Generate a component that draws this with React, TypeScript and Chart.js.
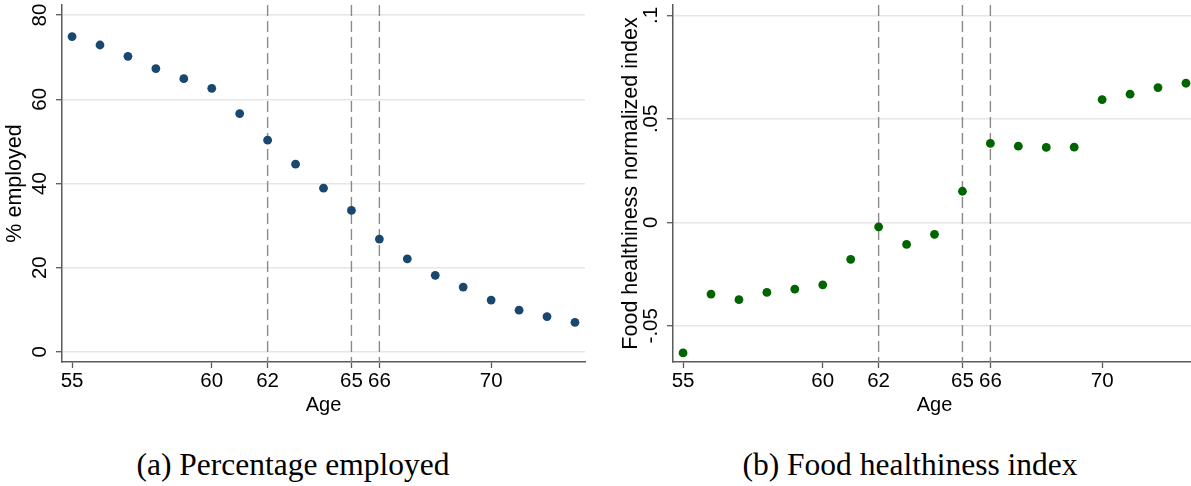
import { useEffect, useRef } from 'react';
import { Chart, registerables } from 'chart.js';

Chart.register(...registerables);

// Age on the horizontal axis of both panels
const ages = [55, 56, 57, 58, 59, 60, 61, 62, 63, 64, 65, 66, 67, 68, 69, 70, 71, 72, 73];

// (a) share of respondents employed, by age
const employedPct = [74.9, 72.9, 70.2, 67.3, 64.9, 62.6, 56.6, 50.3, 44.6, 38.9, 33.6, 26.8, 22.1, 18.2, 15.4, 12.3, 9.9, 8.4, 7.0];

// (b) normalized food healthiness index, by age
const foodIndex = [-0.0631, -0.0347, -0.0374, -0.0339, -0.0323, -0.0302, -0.0179, -0.0022, -0.0107, -0.0058, 0.015, 0.0381, 0.0368, 0.0362, 0.0363, 0.0593, 0.0619, 0.0651, 0.0672];

// Reference ages marked with dashed vertical lines
const retirementAges = [62, 65, 66];

const ageTicks = [55, 60, 62, 65, 66, 70];
const ageTickLabels = ['55', '60', '62', '65', '66', '70'];

const employedTicks = [0, 20, 40, 60, 80];
const employedTickLabels = ['0', '20', '40', '60', '80'];

const foodTicks = [-0.05, 0, 0.05, 0.1];
const foodTickLabels = ['-.05', '0', '.05', '.1'];

const AXIS = '#5a5a5a';
const GRID = '#e6e6e6';
const SANS = "'Liberation Sans', Arial, Helvetica, sans-serif";

const refLinesPlugin = {
  id: 'refLines',
  beforeDatasetsDraw(chart: any) {
    const { ctx, chartArea, scales } = chart;
    const x = scales.x;
    ctx.save();
    ctx.strokeStyle = '#8a8a8a';
    ctx.lineWidth = 1.4;
    ctx.setLineDash([11, 5]);
    for (const a of retirementAges) {
      const px = x.getPixelForValue(a);
      ctx.beginPath();
      ctx.moveTo(px, chartArea.top);
      ctx.lineTo(px, chartArea.bottom);
      ctx.stroke();
    }
    ctx.restore();
  },
};

type PanelSpec = {
  values: number[];
  color: string;
  yMin: number;
  yMax: number;
  yTicks: number[];
  yTickLabels: string[];
  yTitle: string;
  yWidth: number;
  yTickPadding: number;
  yTitlePadding: number;
};

function buildConfig(p: PanelSpec): any {
  const tickFont = { family: SANS, size: 20.5 };
  const xTitleFont = { family: SANS, size: 20 };
  const yTitleFont = { family: SANS, size: 21.5 };
  return {
    type: 'scatter',
    data: {
      datasets: [
        {
          data: ages.map((a, i) => ({ x: a, y: p.values[i] })),
          backgroundColor: p.color,
          borderWidth: 0,
          pointRadius: 4.4,
          pointHoverRadius: 4.4,
        },
      ],
    },
    options: {
      animation: false,
      responsive: false,
      maintainAspectRatio: false,
      events: [],
      layout: { padding: { top: 5, right: 5, left: 0, bottom: 0 } },
      plugins: { legend: { display: false }, tooltip: { enabled: false } },
      scales: {
        x: {
          type: 'linear',
          min: 54.64,
          max: 73.36,
          afterBuildTicks: (s: any) => {
            s.ticks = ageTicks.map((v) => ({ value: v }));
          },
          afterFit: (s: any) => {
            s.height = 58;
            s.paddingLeft = 0;
            s.paddingRight = 0;
          },
          grid: { drawOnChartArea: false, tickLength: 6, tickColor: AXIS, tickWidth: 1.3 },
          border: { color: AXIS, width: 1.5 },
          ticks: {
            font: tickFont,
            color: '#000',
            padding: 1,
            autoSkip: false,
            maxRotation: 0,
            callback: (v: number) => ageTickLabels[ageTicks.indexOf(v)] ?? '',
          },
          title: { display: true, text: 'Age', font: xTitleFont, color: '#000', padding: { top: 0, bottom: 3 } },
        },
        y: {
          type: 'linear',
          min: p.yMin,
          max: p.yMax,
          afterBuildTicks: (s: any) => {
            s.ticks = p.yTicks.map((v) => ({ value: v }));
          },
          afterFit: (s: any) => {
            s.width = p.yWidth;
            s.paddingTop = 0;
            s.paddingBottom = 0;
          },
          grid: { color: GRID, lineWidth: 1.4, tickLength: 6, tickColor: AXIS, tickWidth: 1.3 },
          border: { color: AXIS, width: 1.5 },
          ticks: {
            font: tickFont,
            color: '#000',
            minRotation: 90,
            maxRotation: 90,
            crossAlign: 'center',
            padding: p.yTickPadding,
            callback: (v: number) => p.yTickLabels[p.yTicks.indexOf(v)] ?? '',
          },
          title: {
            display: true,
            text: p.yTitle,
            font: yTitleFont,
            color: '#000',
            padding: { top: p.yTitlePadding, bottom: 0 },
          },
        },
      },
    },
    plugins: [refLinesPlugin],
  };
}

function Panel({ left, width, height, spec }: { left: number; width: number; height: number; spec: PanelSpec }) {
  const ref = useRef<HTMLCanvasElement>(null);
  useEffect(() => {
    if (!ref.current) return;
    const chart = new Chart(ref.current, buildConfig(spec));
    return () => chart.destroy();
  }, []);
  return (
    <canvas
      ref={ref}
      width={width}
      height={height}
      style={{ position: 'absolute', left, top: 0, width, height }}
    />
  );
}

const captionStyle: any = {
  position: 'absolute',
  top: 449,
  fontFamily: "'Liberation Serif', 'Times New Roman', serif",
  fontSize: 31.5,
  lineHeight: '31px',
  textAlign: 'center',
  color: '#000',
  whiteSpace: 'nowrap',
};

export default function App() {
  const employedSpec: PanelSpec = {
    values: employedPct,
    color: '#1a476f',
    yMin: -2.4,
    yMax: 82.4,
    yTicks: employedTicks,
    yTickLabels: employedTickLabels,
    yTitle: '% employed',
    yWidth: 62,
    yTickPadding: 4,
    yTitlePadding: 2,
  };
  const foodSpec: PanelSpec = {
    values: foodIndex,
    color: '#006400',
    yMin: -0.0675,
    yMax: 0.105,
    yTicks: foodTicks,
    yTickLabels: foodTickLabels,
    yTitle: 'Food healthiness normalized index',
    yWidth: 73,
    yTickPadding: -1.6,
    yTitlePadding: 18,
  };
  return (
    <div
      style={{
        position: 'fixed',
        left: 0,
        top: 0,
        width: 1191,
        height: 486,
        overflow: 'hidden',
        background: '#fff',
      }}
    >
      <Panel left={0} width={590} height={420} spec={employedSpec} />
      <Panel left={600} width={601} height={420} spec={foodSpec} />
      <div style={{ ...captionStyle, left: 0, width: 586 }}>(a) Percentage employed</div>
      <div style={{ ...captionStyle, left: 620, width: 580 }}>(b) Food healthiness index</div>
    </div>
  );
}
